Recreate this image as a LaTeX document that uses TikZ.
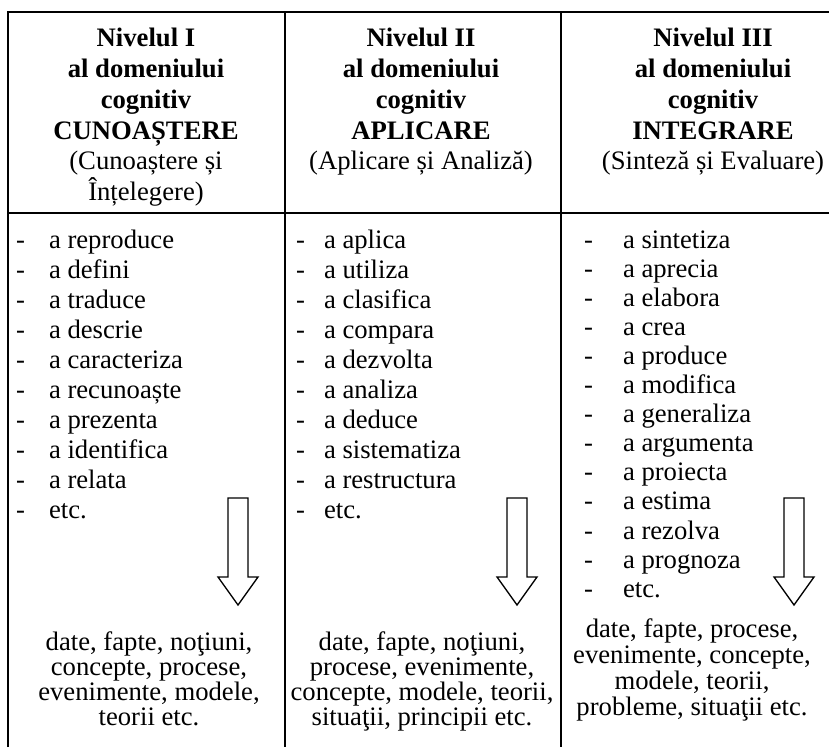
\documentclass[tikz,border=0pt]{standalone}
\usepackage{fontspec}
\setmainfont{Liberation Serif}
\usetikzlibrary{positioning}

% hollow down arrow, centred at x = #1
\newcommand{\levelarrow}[1]{%
  \draw [hollow] (#1-10,498) -- (#1+10,498) -- (#1+10,577) -- (#1+20,577)
    -- (#1,605) -- (#1-20,577) -- (#1-10,577) -- cycle;}

\begin{document}
\begin{tikzpicture}[x=0.45pt, y=-0.45pt, line width=0.9pt,
  every node/.style={inner sep=0pt, font=\fontsize{12}{14}\selectfont},
  head/.style={anchor=base, font=\fontsize{12}{14}\selectfont\bfseries},
  sub/.style={anchor=base},
  item/.style={anchor=base west},
  result/.style={anchor=base},
  hollow/.style={line width=0.6pt, fill=white}]

\useasboundingbox (0,0) rectangle (829,747);

% table rules
\draw (8,747) -- (8,12) -- (829,12);
\draw (8,213) -- (829,213);
\draw (285,12) -- (285,747);
\draw (561,12) -- (561,747);

% column heads
\node [head] (headI1) at (146,47) {Nivelul I};
\node [head] (headI2) at (146,77.7) {al domeniului};
\node [head] (headI3) at (146,108.4) {cognitiv};
\node [head] (headI4) at (146,139.1) {CUNOAȘTERE};
\node [sub] (headI5) at (146,169.8) {(Cunoaștere și};
\node [sub] (headI6) at (146,200.5) {Înțelegere)};

\node [head] (headII1) at (421,47) {Nivelul II};
\node [head] (headII2) at (421,77.7) {al domeniului};
\node [head] (headII3) at (421,108.4) {cognitiv};
\node [head] (headII4) at (421,139.1) {APLICARE};
\node [sub] (headII5) at (421,169.8) {(Aplicare și Analiză)};

\node [head] (headIII1) at (713,47) {Nivelul III};
\node [head] (headIII2) at (713,77.7) {al domeniului};
\node [head] (headIII3) at (713,108.4) {cognitiv};
\node [head] (headIII4) at (713,139.1) {INTEGRARE};
\node [sub] (headIII5) at (713,169.8) {(Sinteză și Evaluare)};

% verb lists
\foreach \w [count=\i from 0] in {a reproduce, a defini, a traduce, a descrie,
    a caracteriza, a recunoaște, a prezenta, a identifica, a relata, etc.} {
  \node [item] (dashI\i) at (15,248+30.1*\i) {-};
  \node [item] (verbI\i) at (48,248+30.1*\i) {\w};
}
\foreach \w [count=\i from 0] in {a aplica, a utiliza, a clasifica, a compara,
    a dezvolta, a analiza, a deduce, a sistematiza, a restructura, etc.} {
  \node [item] (dashII\i) at (295,248+30.1*\i) {-};
  \node [item] (verbII\i) at (323,248+30.1*\i) {\w};
}
\foreach \w [count=\i from 0] in {a sintetiza, a aprecia, a elabora, a crea,
    a produce, a modifica, a generaliza, a argumenta, a proiecta, a estima,
    a rezolva, a prognoza, etc.} {
  \node [item] (dashIII\i) at (583,248+29.1*\i) {-};
  \node [item] (verbIII\i) at (622,248+29.1*\i) {\w};
}

% arrows
\levelarrow{238}
\levelarrow{517}
\levelarrow{794}

% contents
\node [result] (resI1) at (149,650) {date, fapte, noţiuni,};
\node [result] (resI2) at (149,675) {concepte, procese,};
\node [result] (resI3) at (149,700) {evenimente, modele,};
\node [result] (resI4) at (149,725) {teorii etc.};

\node [result] (resII1) at (422,650) {date, fapte, noţiuni,};
\node [result] (resII2) at (422,675) {procese, evenimente,};
\node [result] (resII3) at (422,700) {concepte, modele, teorii,};
\node [result] (resII4) at (422,725) {situaţii, principii etc.};

\node [result] (resIII1) at (692,637) {date, fapte, procese,};
\node [result] (resIII2) at (692,663) {evenimente, concepte,};
\node [result] (resIII3) at (692,689) {modele, teorii,};
\node [result] (resIII4) at (692,715) {probleme, situaţii etc.};

\end{tikzpicture}
\end{document}
